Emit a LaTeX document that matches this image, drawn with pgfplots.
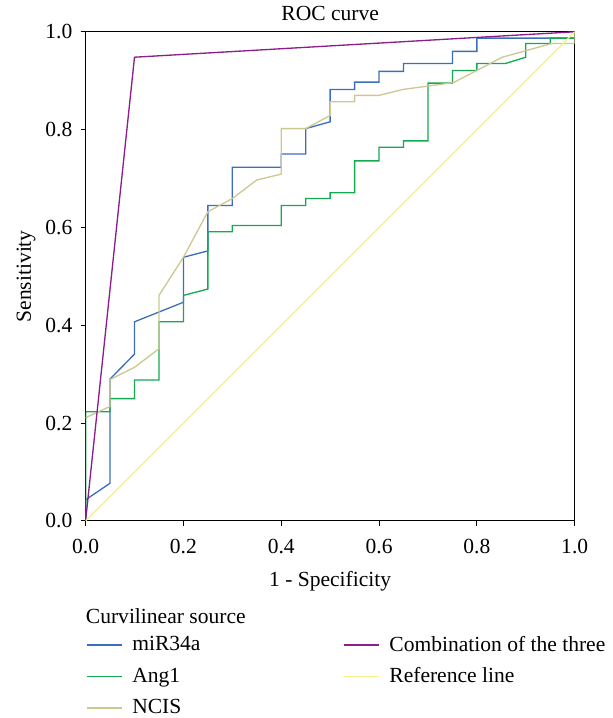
\documentclass[border=0pt]{standalone}
\usepackage{pgfplots}
\pgfplotsset{compat=1.18}
\usepackage{fontspec}
\setmainfont{Liberation Serif}

\definecolor{cmir}{RGB}{60,110,190}
\definecolor{cang}{RGB}{20,170,80}
\definecolor{cncis}{RGB}{205,200,145}
\definecolor{ccomb}{RGB}{140,30,140}
\definecolor{cref}{RGB}{245,240,140}

\begin{document}
\begin{tikzpicture}[font=\fontsize{13}{15}\selectfont]
\begin{axis}[
  width=295.2pt, height=295.2pt, scale only axis,
  xmin=0, xmax=1, ymin=0, ymax=1,
  xtick={0,0.2,0.4,0.6,0.8,1},
  ytick={0,0.2,0.4,0.6,0.8,1},
  tick align=outside, xtick pos=bottom, ytick pos=left,
  major tick length=3pt,
  tick style={black, line width=0.6pt},
  axis line style={line width=0.7pt},
  /pgf/number format/assume math mode=true,
  /pgf/number format/.cd, fixed, fixed zerofill, precision=1, /pgfplots/.cd,
  xticklabel style={yshift=-4.5pt},
  yticklabel style={xshift=-1.5pt},
  title={ROC curve},
  title style={yshift=-3pt},
  xlabel={1 - Specificity},
  ylabel={Sensitivity},
  xlabel style={yshift=-4pt},
  ylabel style={yshift=-1pt},
  clip mode=individual,
  legend columns=2,
  legend cell align=left,
  legend style={draw=none, fill=none, inner sep=0pt,
    at={(0,-0.228)}, anchor=north west,
    row sep=4.5pt,
    /tikz/every odd column/.style={column sep=4pt},
    /tikz/every even column/.style={column sep=84pt}},
  legend image code/.code={\draw[#1, line width=1pt] (0pt,0pt) -- (21pt,0pt);},
  every axis plot/.append style={line width=0.8pt},
]
\addplot[cmir, forget plot] coordinates {
  (0,0) (0,0.043) (0.05,0.077) (0.05,0.29) (0.1,0.341) (0.1,0.407)
  (0.2,0.447) (0.2,0.539) (0.25,0.552) (0.25,0.645) (0.3,0.645)
  (0.3,0.723) (0.4,0.723) (0.4,0.75) (0.45,0.75) (0.45,0.802)
  (0.5,0.816) (0.5,0.882) (0.55,0.882) (0.55,0.897) (0.6,0.897)
  (0.6,0.919) (0.65,0.919) (0.65,0.935) (0.75,0.935) (0.75,0.96)
  (0.8,0.96) (0.8,0.987) (1,0.987) (1,1)};
\addplot[cang, forget plot] coordinates {
  (0,0) (0,0.223) (0.05,0.223) (0.05,0.25) (0.1,0.25) (0.1,0.288)
  (0.15,0.288) (0.15,0.407) (0.2,0.407) (0.2,0.461) (0.25,0.474)
  (0.25,0.591) (0.3,0.591) (0.3,0.604) (0.4,0.604) (0.4,0.645)
  (0.45,0.645) (0.45,0.659) (0.5,0.659) (0.5,0.671) (0.55,0.671)
  (0.55,0.736) (0.6,0.736) (0.6,0.764) (0.65,0.764) (0.65,0.777)
  (0.7,0.777) (0.7,0.895) (0.75,0.895) (0.75,0.921) (0.8,0.921)
  (0.8,0.935) (0.858,0.935) (0.9,0.948) (0.9,0.976) (0.95,0.976)
  (0.95,0.987) (1,0.987) (1,1)};
\addplot[cncis, forget plot] coordinates {
  (0,0.211) (0.05,0.234) (0.05,0.289) (0.1,0.314) (0.15,0.352)
  (0.15,0.461) (0.2,0.539) (0.25,0.632) (0.3,0.659) (0.35,0.697)
  (0.4,0.709) (0.4,0.802) (0.45,0.802) (0.5,0.829) (0.5,0.857)
  (0.55,0.857) (0.55,0.870) (0.6,0.870) (0.648,0.882) (0.752,0.896)
  (0.852,0.948) (0.953,0.976) (1,0.976) (1,1)};
\addplot[ccomb, forget plot] coordinates {(0,0) (0.1,0.948) (1,1)};
\addplot[cref, forget plot] coordinates {(0,0) (1,1)};

\addlegendimage{cmir}\addlegendentry{miR34a}
\addlegendimage{ccomb}\addlegendentry{Combination of the three}
\addlegendimage{cang}\addlegendentry{Ang1}
\addlegendimage{cref}\addlegendentry{Reference line}
\addlegendimage{cncis}\addlegendentry{NCIS}

\node[anchor=west, inner sep=0pt] at (rel axis cs:0,-0.195) {Curvilinear source};
\coordinate (bbl) at (rel axis cs:-0.175,-0.403);
\coordinate (btr) at (rel axis cs:1.077,1.065);
\end{axis}
\pgfresetboundingbox
\path[use as bounding box] (bbl) rectangle (btr);
\end{tikzpicture}
\end{document}
